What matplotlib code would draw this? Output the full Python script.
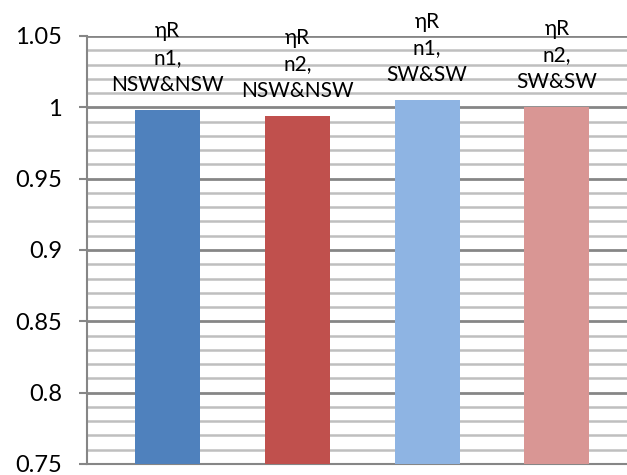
import matplotlib.pyplot as plt
from matplotlib.ticker import MultipleLocator

plt.rcParams['font.family'] = ['Lato', 'DejaVu Sans']

labels = ["ηR\nn1,\nNSW&NSW", "ηR\nn2,\nNSW&NSW", "ηR\nn1,\nSW&SW", "ηR\nn2,\nSW&SW"]
values = [0.998, 0.9937, 1.0049, 1.0000]
colors = ["#4F81BD", "#C0504D", "#8EB4E3", "#D99694"]

fig = plt.figure(figsize=(6.27, 4.75), dpi=100)
ax = fig.add_axes([87 / 627, 1 - 464 / 475, 1 - 87 / 627, (464 - 36) / 475])

x = range(len(values))
ax.bar(x, [v - 0.75 for v in values], bottom=0.75, width=0.5, color=colors, zorder=3)

for xi, v, lab in zip(x, values, labels):
    ax.annotate(lab, (xi, v), xytext=(0, 11), textcoords="offset points",
                ha="center", va="bottom", fontsize=15, linespacing=1.42,
                annotation_clip=False, zorder=4)

ax.set_xlim(-0.62, 3.54)
ax.set_ylim(0.75, 1.05)
ax.yaxis.set_minor_locator(MultipleLocator(0.01))
ax.set_yticks([0.75, 0.8, 0.85, 0.9, 0.95, 1.0, 1.05])
ax.set_yticklabels(["0.75", "0.8", "0.85", "0.9", "0.95", "1", "1.05"])
ax.grid(which="major", axis="y", color="#868686", linewidth=2, zorder=1)
ax.grid(which="minor", axis="y", color="#BFBFBF", linewidth=1.8, zorder=0)
ax.set_xticks([])
ax.tick_params(axis="y", which="major", length=6, width=1.5, color="#868686",
               labelsize=17, pad=12)
ax.tick_params(axis="y", which="minor", length=0)

for s in ["top", "right"]:
    ax.spines[s].set_visible(False)
for s in ["left", "bottom"]:
    ax.spines[s].set_color("#868686")
    ax.spines[s].set_linewidth(1.5)

fig.savefig("out.png", dpi=100)
